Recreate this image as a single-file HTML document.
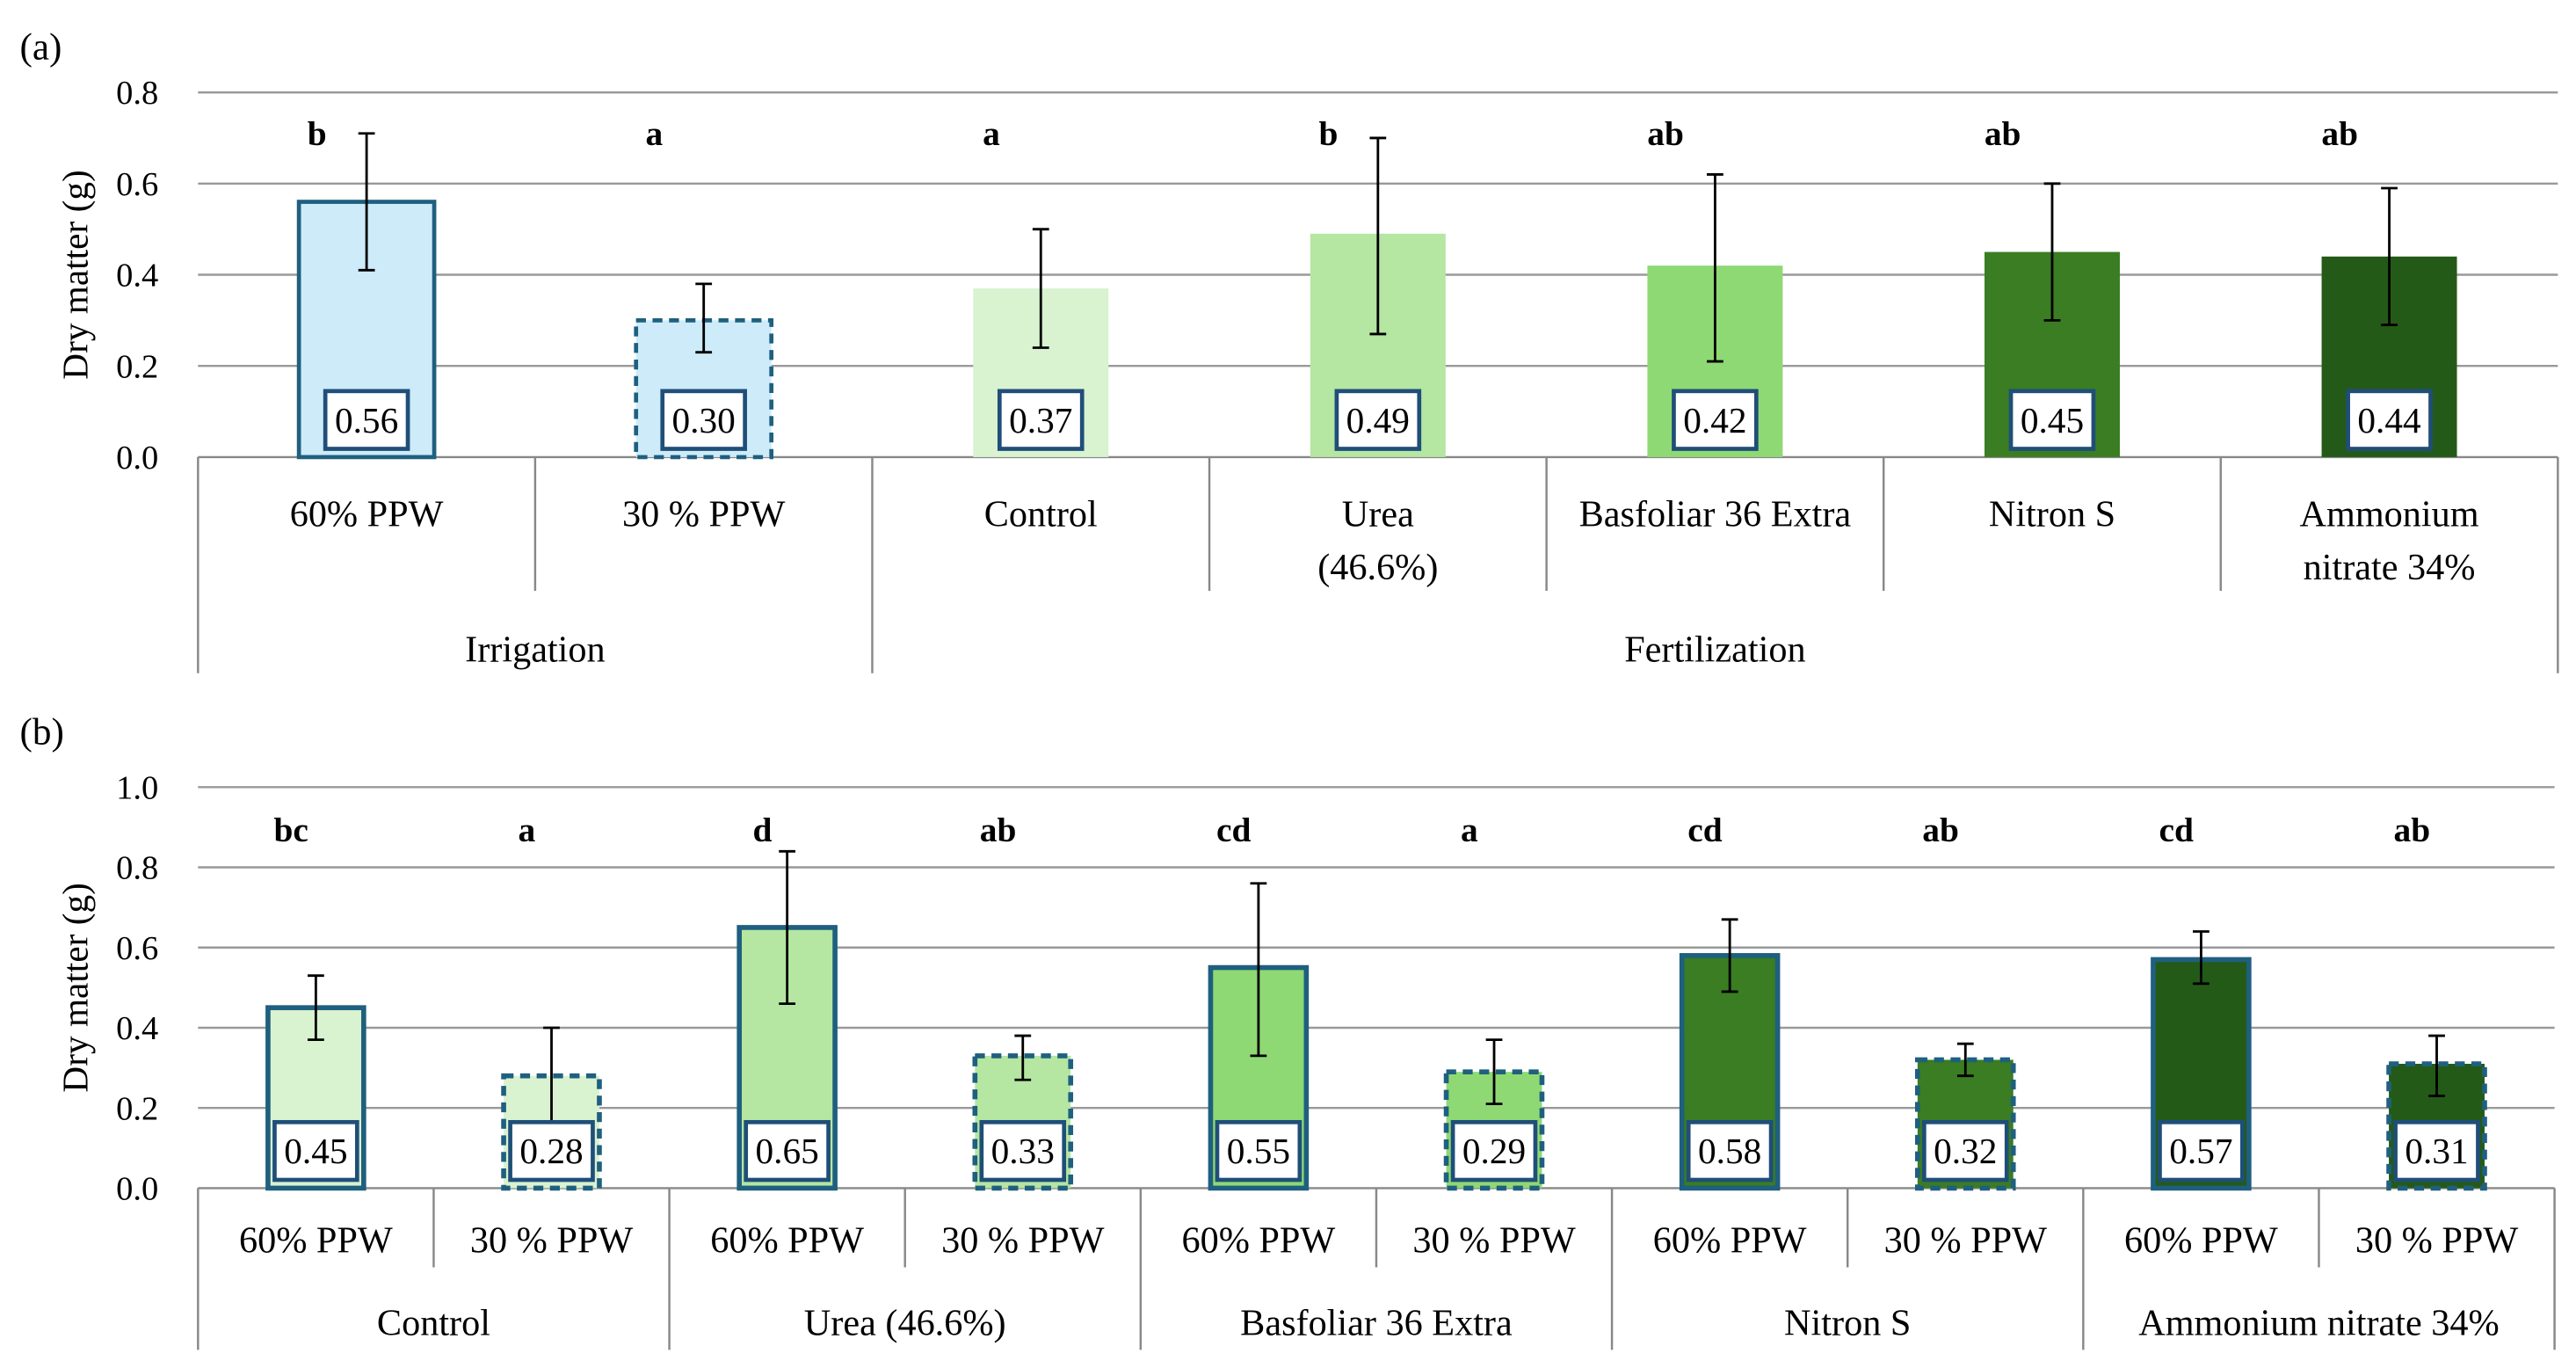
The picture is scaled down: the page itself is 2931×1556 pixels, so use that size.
<!DOCTYPE html>
<html><head><meta charset="utf-8"><style>
html,body{margin:0;padding:0;background:#fff;}
svg{display:block;font-family:"Liberation Serif",serif;}
</style></head><body>
<svg id="s" width="2931" height="1556" viewBox="0 0 1561 829" preserveAspectRatio="none" xmlns="http://www.w3.org/2000/svg">
<text x="12" y="36" font-size="23">(a)</text>
<text x="12" y="451" font-size="23">(b)</text>
<g id="ga"></g>
<g id="gb"></g>
</svg>
<script>
const NS="http://www.w3.org/2000/svg";
// Chart A data
const catsA=["60% PPW","30 % PPW","Control","Urea|(46.6%)","Basfoliar 36 Extra","Nitron S","Ammonium|nitrate 34%"];
const valsA=[0.56,0.30,0.37,0.49,0.42,0.45,0.44];
const lowA=[0.41,0.23,0.24,0.27,0.21,0.30,0.29];
const highA=[0.71,0.38,0.50,0.70,0.62,0.60,0.59];
const lettersA=["b","a","a","b","ab","ab","ab"];
const groupsA=["Irrigation","Fertilization"];
const ticksA=[0,0.2,0.4,0.6,0.8];
// Chart B data
const catsB=["60% PPW","30 % PPW","60% PPW","30 % PPW","60% PPW","30 % PPW","60% PPW","30 % PPW","60% PPW","30 % PPW"];
const valsB=[0.45,0.28,0.65,0.33,0.55,0.29,0.58,0.32,0.57,0.31];
const lowB=[0.37,0.16,0.46,0.27,0.33,0.21,0.49,0.28,0.51,0.23];
const highB=[0.53,0.40,0.84,0.38,0.76,0.37,0.67,0.36,0.64,0.38];
const lettersB=["bc","a","d","ab","cd","a","cd","ab","cd","ab"];
const groupsB=["Control","Urea (46.6%)","Basfoliar 36 Extra","Nitron S","Ammonium nitrate 34%"];
const ticksB=[0,0.2,0.4,0.6,0.8,1.0];

function el(p,t,a,txt){const e=document.createElementNS(NS,t);for(const k in a)e.setAttribute(k,a[k]);if(txt!=null)e.textContent=txt;p.appendChild(e);return e;}
const BORDER="#1f5f7f",BOX="#1f4e79";
function chart(g,o){
  const y=v=>o.y0-(v/o.ymax)*(o.y0-o.y1);
  const n=o.cats.length,cw=(o.x1-o.x0)/n,x=i=>o.x0+cw*(i+0.5);
  o.ticks.forEach(t=>{
    const l=el(g,"line",{x1:o.x0,x2:o.x1,y1:y(t),y2:y(t),stroke:t===0?"#888":"#999","stroke-width":1.3});
    
    const tx=el(g,"text",{x:o.x0-24,y:y(t)+7,"font-size":20.5,"text-anchor":"end"},t.toFixed(1));
    
  });
  const yt=el(g,"text",{transform:`translate(53,${(o.y0+o.y1)/2}) rotate(-90)`,"font-size":22,"text-anchor":"middle"},"Dry matter (g)");
  
  o.vals.forEach((v,i)=>{
    const c=x(i),bw=o.bw;
    const st=o.style(i);
    const r=el(g,"rect",{x:c-bw/2,y:y(v),width:bw,height:y(0)-y(v),fill:st.fill,stroke:st.stroke||"none","stroke-width":st.sw||0,"stroke-dasharray":st.dash||"none"});
    
    const eb=el(g,"path",{d:`M${c},${y(o.low[i])}V${y(o.high[i])}M${c-5},${y(o.low[i])}H${c+5}M${c-5},${y(o.high[i])}H${c+5}`,stroke:"#000","stroke-width":1.5,fill:"none"});
    
    const bx=el(g,"rect",{x:c-25,y:o.y0-40,width:50,height:35,fill:"#fff",stroke:BOX,"stroke-width":2.5});
    
    const vt=el(g,"text",{x:c,y:o.y0-15,"font-size":22,"text-anchor":"middle"},v.toFixed(2));
    
    const lt=el(g,"text",{x:c-o.loff,y:o.ly,"font-size":21,"font-weight":"bold","text-anchor":"middle"},o.letters[i]);
    
    const parts=o.cats[i].split("|");
    parts.forEach((p,k)=>{const ct=el(g,"text",{x:c,y:o.cy+k*32,"font-size":22.5,"text-anchor":"middle"},p);
      });
  });
  for(let i=0;i<=n;i++){
    const big=o.groupEdges.includes(i);
    const l=el(g,"line",{x1:o.x0+cw*i,x2:o.x0+cw*i,y1:o.y0,y2:big?o.gBottom:o.sBottom,stroke:"#888","stroke-width":1.3});
    
  }
  o.groups.forEach((gname,k)=>{
    const a=o.groupEdges[k],b=o.groupEdges[k+1];
    const t=el(g,"text",{x:o.x0+cw*(a+b)/2,y:o.gy,"font-size":22.5,"text-anchor":"middle"},gname);
    
  });
}
const colA=["#cdebf8","#cdebf8","#d9f2d0","#b5e6a2","#8ed973","#3a7d22","#245a18"];
chart(document.getElementById("ga"),{x0:120,x1:1550,y0:277,y1:56,ymax:0.8,ticks:ticksA,cats:catsA,vals:valsA,low:lowA,high:highA,letters:lettersA,
 bw:82,loff:30,ly:88,cy:319,gy:401,sBottom:358,gBottom:408,groups:groupsA,groupEdges:[0,2,7],
 style:i=>i===0?{fill:colA[i],stroke:BORDER,sw:2.5}:i===1?{fill:colA[i],stroke:BORDER,sw:2.5,dash:"6,4"}:{fill:colA[i]}});
const colB=["#d9f2d0","#b5e6a2","#8ed973","#3a7d22","#245a18"];
chart(document.getElementById("gb"),{x0:120,x1:1548,y0:720,y1:477,ymax:1.0,ticks:ticksB,cats:catsB,vals:valsB,low:lowB,high:highB,letters:lettersB,
 bw:58,loff:15,ly:510,cy:759,gy:809,sBottom:768,gBottom:818,groups:groupsB,groupEdges:[0,2,4,6,8,10],
 style:i=>({fill:colB[Math.floor(i/2)],stroke:BORDER,sw:3,dash:i%2?"6,4":"none"})});
</script>
</body></html>
